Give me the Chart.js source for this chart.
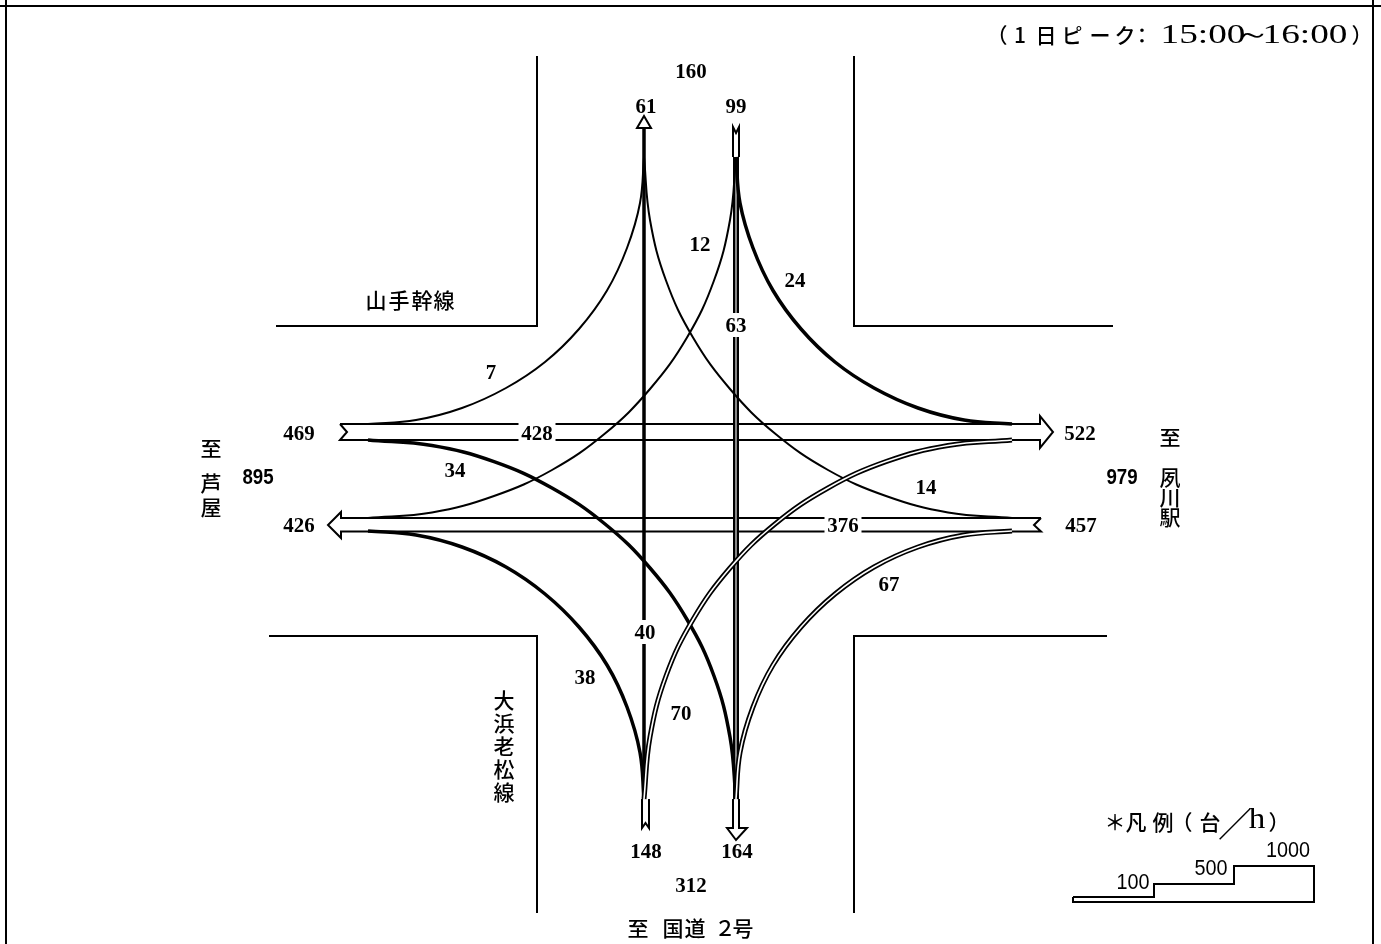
<!DOCTYPE html>
<html lang="ja"><head><meta charset="utf-8">
<style>html,body{margin:0;padding:0;background:#fff}canvas{display:block}</style>
<script src="https://cdn.jsdelivr.net/npm/chart.js@4"></script>
</head><body><canvas id="c" width="1381" height="944"></canvas>
<script>
// turning movements (counts are in volumeTexts below)
const curve7X  = [368,416,462,506,545,579,607,627,640,644];
const curve7Y  = [424,420,408,388,362,329,290.5,248,203,157];
const curve24X = [1012,964,918,874,835,801,773,753,740,736];
const curve24Y = [424,420,408,388,362,329,290.5,248,203,157];
const curve12X = [368,432,494,552,605,650,687,714,730,736];
const curve12Y = [518,512.5,496,470,433.5,389,337.5,280.5,220,157];
const curve14X = [1012,948,886,828,775,730,693,666,650,644];
const curve14Y = [518,512.5,496,470,433.5,389,337.5,280.5,220,157];
const curve34X = [368,432,494,552,605,650,687,714,730,736];
const curve34Y = [440,445.5,461.6,488,524,568,619.5,676,737,799];
const curve38X = [368,416,462,506,545,579,607,627,640,644];
const curve38Y = [531,535,547,567,594,627,665,707,752.5,799];
const curve70X = [1012,948,886,828,775,730,693,666,650,644];
const curve70Y = [440,445.5,461.6,488,524,568,619.5,676,737,799];
const curve67X = [1012,964,918,874,835,801,773,753,740,736];
const curve67Y = [531,535,547,567,594,627,665,707,752.5,799];

// frame, roads, arrows, legend
const thinPaths = [
  [[6,0],[6,944]], [[1373,0],[1373,944]], [[0,6],[1381,6]],
  [[537,56],[537,326],[276,326]], [[854,56],[854,326],[1113,326]],
  [[269,636],[537,636],[537,913]], [[1107,636],[854,636],[854,913]],
  // eastbound band 428 + arrow
  [[340,424],[1040,424],[1040,416],[1053,432],[1040,448],[1040,440],[340,440],[347,432],[340,424]],
  // westbound band 376 + arrow
  [[1041,518],[341,518],[341,512],[328,525],[341,538],[341,531.5],[1041,531.5],[1034,525],[1041,518]],
  // north exit arrow head
  [[644,128],[637,128],[644,116],[651,128],[644,128]],
  // south entry tail
  [[642,799],[642,828],[645.5,823],[649,828],[649,799]],
  // north entry tail
  [[733,157],[733,127],[736,133],[739,127],[739,157]],
  // south exit arrow
  [[733,799],[733,828],[727,828],[736,840],[747,828],[739,828],[739,799]],
  // legend
  [[1073,897],[1154,897],[1154,884],[1234,884],[1234,866],[1314,866],[1314,902],[1073,902],[1073,897]]
];
const line40Path = [[644,128],[644,799]];
const line63Path = [[736,157],[736,799]];

const volumeTexts = ['160','61','99','12','24','63','7','469','428','522','34','14','426','376','457','67','40','38','70','148','164','312'];
const volumeX = [691,646,736,700,795,736,491,299,537,1080,455,926,299,843,1081,889,645,585,681,646,737,691];
const volumeY = [71,106,106,244,280,325,372,433,433,433,470,487,525,525,525,584,632,677,713,851,851,885];
const maskedTexts = ['63','428','376','40'];

const totalTexts = ['895','979'];
const totalX = [258,1122];
const totalY = [478,478];

const legendTexts = ['100','500','1000'];
const legendX = [1133,1211,1288];
const legendY = [883,869,851];

const cjkTexts = ['山','手','幹','線','至','芦','屋','至','夙','川','駅','大','浜','老','松','線','至','国','道','２','号','＊','凡','例','（','台','（','1','日','ピ','ー','ク','：','）','）'];
const cjkX = [376,399,422,444,211,211,211,1170,1170,1170,1170,504,504,504,504,504,638,673,695,725,743,1115,1136,1163,1182,1210,997,1020,1046,1072,1100,1125,1142,1279,1362];
const cjkY = [300,300,300,300,448,483,507,437,477,497,517,700,723,746,769,792,928,928,928,928,928,822,822,822,822,822,35,35,35,35,35,35,35,822,35];

const largeTexts = ['15:00','～','16:00','h'];
const largeX = [1203,1253,1305,1257];
const largeY = [36,36,36,820];
const slashText = '／';

const SERIF = '"Liberation Serif"';
const CJK = '"Noto Sans CJK JP"';

function pts(xs, ys){ return xs.map((x,i)=>({x, y:ys[i]})); }
function pathPts(p){ return p.map(a=>({x:a[0], y:a[1]})); }
function ds(data, width, color, tension){
  return {data, borderColor:color||'#000', borderWidth:width, tension:tension||0, pointRadius:0, showLine:true, fill:false, borderJoinStyle:'miter', parsing:false};
}
const CURVE = 0.4;
const layers = [
  ...thinPaths.map(p=>ds(pathPts(p),2)),
  ds(pathPts(line40Path),3.5),
  ds(pathPts(line63Path),6),
  ds(pathPts(line63Path),2,'#888'),
  ds(pts(curve7X,curve7Y),2,'#000',CURVE),
  ds(pts(curve12X,curve12Y),2,'#000',CURVE),
  ds(pts(curve14X,curve14Y),2,'#000',CURVE),
  ds(pts(curve24X,curve24Y),3.5,'#000',CURVE),
  ds(pts(curve34X,curve34Y),3.5,'#000',CURVE),
  ds(pts(curve38X,curve38Y),3.5,'#000',CURVE),
  ds(pts(curve70X,curve70Y),5,'#000',CURVE),
  ds(pts(curve70X,curve70Y),1.6,'#fff',CURVE),
  ds(pts(curve67X,curve67Y),5,'#000',CURVE),
  ds(pts(curve67X,curve67Y),1.6,'#fff',CURVE)
];
// Chart.js paints the last dataset first, so reverse to paint in list order.
const datasets = layers.slice().reverse();

const textPlugin = {
  id:'textPlugin',
  afterDatasetsDraw(chart){
    const {ctx, scales:{x:sx, y:sy}} = chart;
    ctx.save();
    ctx.textAlign='center'; ctx.textBaseline='middle'; ctx.fillStyle='#000';
    const put=(t,x,y,font,stretch)=>{
      ctx.save();
      ctx.translate(sx.getPixelForValue(x), sy.getPixelForValue(y));
      ctx.scale(stretch||1,1);
      ctx.font=font; ctx.fillText(t,0,0);
      ctx.restore();
    };
    volumeTexts.forEach((t,i)=>{
      const x=sx.getPixelForValue(volumeX[i]), y=sy.getPixelForValue(volumeY[i]);
      if(maskedTexts.includes(t)){
        ctx.fillStyle='#fff';
        const w=t.length*11+4;
        ctx.fillRect(x-w/2,y-12,w,24);
        ctx.fillStyle='#000';
      }
      put(t,volumeX[i],volumeY[i]+1,'bold 22px '+SERIF,0.95);
    });
    totalTexts.forEach((t,i)=>put(t,totalX[i],totalY[i],'bold 22px "Liberation Sans"',0.85));
    legendTexts.forEach((t,i)=>put(t,legendX[i],legendY[i],'22px "Liberation Sans"',0.9));
    cjkTexts.forEach((t,i)=>put(t,cjkX[i],cjkY[i],'500 21px '+CJK,1));
    largeTexts.forEach((t,i)=>put(t,largeX[i],largeY[i],(t==='h'?'30px ':'27px ')+SERIF,t==='h'?1.1:1.38));
    put(slashText,1235,824,'34px '+CJK,1);
    ctx.restore();
  }
};

new Chart(document.getElementById('c'),{
  type:'scatter',
  data:{datasets},
  options:{
    responsive:false, animation:false, events:[],
    layout:{padding:0},
    plugins:{legend:{display:false},tooltip:{enabled:false},title:{display:false}},
    scales:{
      x:{type:'linear',min:0,max:1381,display:false},
      y:{type:'linear',min:0,max:944,reverse:true,display:false}
    }
  },
  plugins:[textPlugin]
});
</script></body></html>
